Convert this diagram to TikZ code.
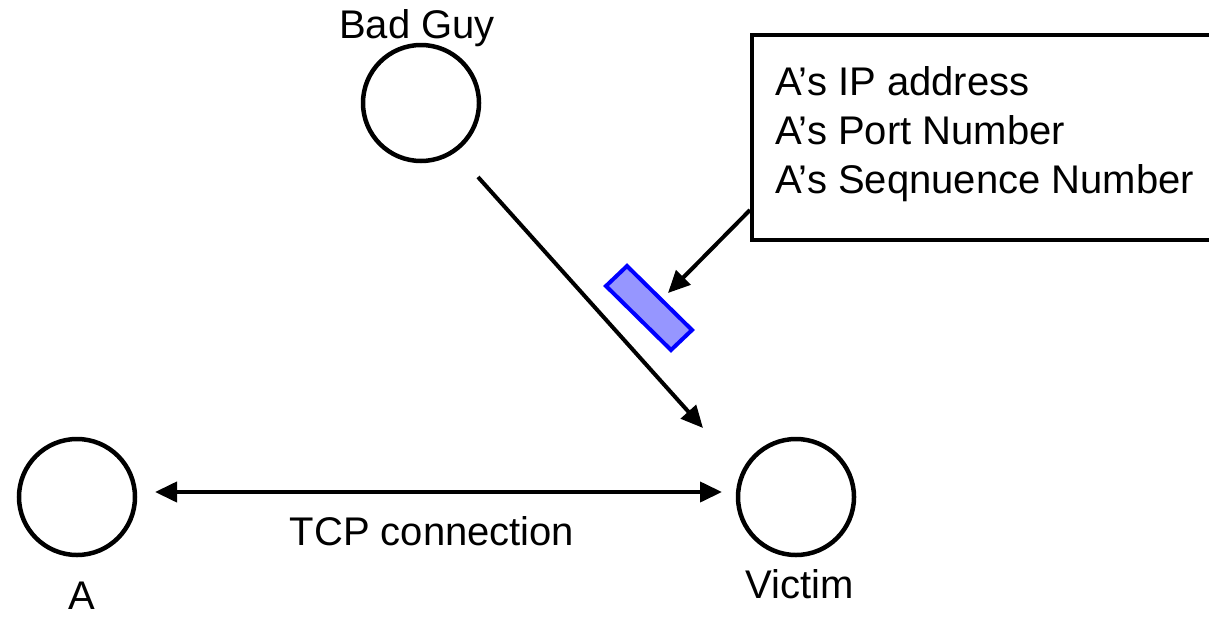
\documentclass[tikz,border=0pt]{standalone}
\usepackage{fontspec}
\setmainfont{Liberation Sans}
\usetikzlibrary{arrows.meta}
\begin{document}
\begin{tikzpicture}[x=1pt,y=-1pt,
  host/.style={circle,draw=black,line width=4.5pt,minimum size=116pt,inner sep=0pt},
  lbl/.style={font=\fontsize{40}{49}\selectfont,inner sep=0pt},
  conn/.style={line width=4pt,-{Triangle[length=22pt,width=20pt]}},
  biconn/.style={line width=4pt,{Triangle[length=22pt,width=20pt]}-{Triangle[length=22pt,width=20pt]}},
  infobox/.style={draw=black,line width=4pt,anchor=north west,minimum width=520pt,minimum height=205pt,inner sep=0pt},
  pkt/.style={draw=blue,line width=4pt,fill={rgb,255:red,150;green,150;blue,255}}]
\useasboundingbox (0,0) rectangle (1209,616);
\fill[white] (0,0) rectangle (1209,616);

% hosts
\node[host] (bad) at (421,103) {};
\node[host] (a) at (77,497) {};
\node[host] (victim) at (796,497) {};

% labels
\node[lbl,anchor=base] (badlbl) at (417,38) {Bad Guy};
\node[lbl,anchor=base] (alb) at (82,609) {A};
\node[lbl,anchor=base] (viclbl) at (800,598) {Victim};
\node[lbl,anchor=base] (tcplbl) at (432,545) {TCP connection};

% TCP connection
\coordinate (tcpl) at (155,492);
\coordinate (tcpr) at (722,492);
\draw[biconn] (tcpl) -- (tcpr);

% attack arrow
\coordinate (bgs) at (478,177);
\coordinate (vt) at (703,428);
\draw[conn] (bgs) -- (vt);

% info box
\node[infobox] (box) at (750,33) {};
\node[lbl,anchor=north west,align=left] (info) at (775,66)
  {A’s IP address\\A’s Port Number\\A’s Seqnuence Number};

% callout arrow
\coordinate (cs) at (750,210);
\coordinate (ct) at (668,293);
\draw[conn] (cs) -- (ct);

% spoofed packet
\coordinate (p1) at (627,266);
\coordinate (p2) at (692,330);
\coordinate (p3) at (671,350);
\coordinate (p4) at (606,286);
\draw[pkt] (p1) -- (p2) -- (p3) -- (p4) -- cycle;
\end{tikzpicture}
\end{document}
